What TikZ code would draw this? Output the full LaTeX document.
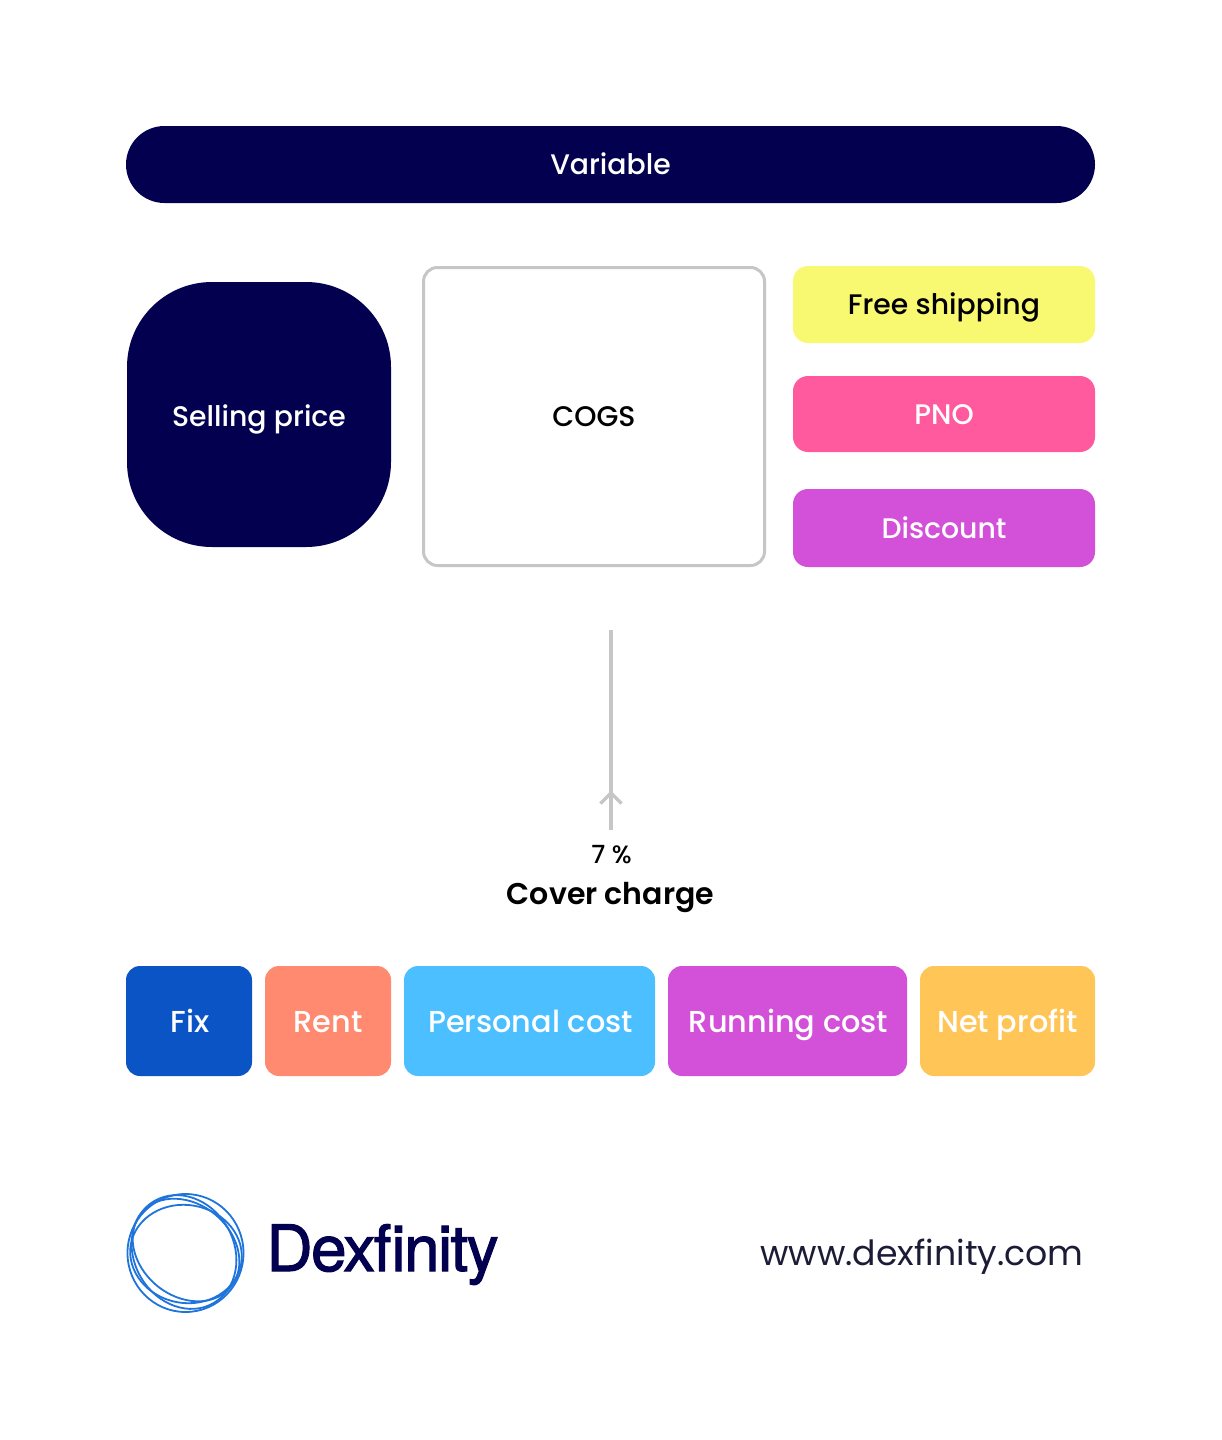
\documentclass[tikz,border=0pt]{standalone}
\usepackage{fontspec}
\setmainfont{Poppins}
\newfontfamily\pmed{Poppins Medium}
\newfontfamily\psemi{Poppins SemiBold}
\newfontfamily\plogo[LetterSpace=-2.6,FakeBold=1.6]{TeX Gyre Heros}
\usetikzlibrary{decorations.markings}
\definecolor{navy}{HTML}{03014F}
\definecolor{edgegray}{HTML}{C6C6C6}
\definecolor{yellowbox}{HTML}{F9F871}
\definecolor{pinkbox}{HTML}{FF5A9E}
\definecolor{purplebox}{HTML}{D351D9}
\definecolor{bluebox}{HTML}{0B54C6}
\definecolor{coralbox}{HTML}{FF8A70}
\definecolor{skybox}{HTML}{4BBFFF}
\definecolor{amberbox}{HTML}{FFC557}
\definecolor{ringblue}{HTML}{1F74DB}
\definecolor{urlink}{HTML}{1C1C36}
\tikzset{
  x=1pt,y=-1pt,
  box/.style={inner sep=0pt,outer sep=0pt,align=center,text=white,
    text height=24pt,text depth=4pt,
    font=\pmed\fontsize{28.3}{34}\selectfont},
  flat/.style={box,rounded corners=15pt},
  lower/.style={box,rounded corners=14pt,minimum height=110pt,
    text height=25pt,text depth=3pt,
    font=\pmed\fontsize{30.3}{36}\selectfont},
  ring/.style={draw=ringblue,line width=1.8pt},
  conn/.style={draw=edgegray,line width=3.5pt},
}
\begin{document}
\begin{tikzpicture}
\useasboundingbox (0,0) rectangle (1221,1440);
\fill[white] (0,0) rectangle (1221,1440);
\node[box,fill=navy,rounded corners=38.5pt,minimum width=969pt,minimum height=77pt] (variable) at (610.5,164.5) {Variable};
\node[box,fill=navy,rounded corners=85pt,minimum width=264pt,minimum height=265pt,text height=26pt,text depth=2pt] (selling) at (259,414.5) {Selling price};
\node[box,draw=edgegray,line width=3pt,fill=white,text=black,rounded corners=14pt,minimum width=341pt,minimum height=298pt] (cogs) at (594,416.5) {COGS};
\node[flat,fill=yellowbox,text=black,minimum width=302pt,minimum height=77pt] (free) at (944,304.5) {Free shipping};
\node[flat,fill=pinkbox,minimum width=302pt,minimum height=76pt] (pno) at (944,414) {PNO};
\node[flat,fill=purplebox,minimum width=302pt,minimum height=78pt] (discount) at (944,528) {Discount};

\coordinate (lineBottom) at (611,830);
\coordinate (lineTop) at (611,630);
\draw[conn,postaction={decorate},decoration={markings,
  mark=at position 0.185 with {\draw[edgegray,line width=3.5pt] (-10.5pt,10.5pt) -- (0pt,0pt) -- (-10.5pt,-10.5pt);}}]
  (lineBottom) -- (lineTop);

\node[inner sep=0pt,anchor=base,font=\pmed\fontsize{25}{28}\selectfont] (pct) at (611.5,863) {7 \%};
\node[inner sep=0pt,anchor=base,font=\psemi\fontsize{30}{36}\selectfont] (cover) at (610.5,904) {Cover charge};

\node[lower,fill=bluebox,minimum width=126pt] (fix) at (189,1021) {\hspace*{2pt}Fix};
\node[lower,fill=coralbox,minimum width=126pt] (rent) at (328,1021) {Rent};
\node[lower,fill=skybox,minimum width=251pt] (personal) at (529.5,1021) {\hspace*{2pt}Personal cost};
\node[lower,fill=purplebox,minimum width=239pt] (running) at (787.5,1021) {\hspace*{2pt}Running cost};
\node[lower,fill=amberbox,minimum width=175pt] (net) at (1007.5,1021) {Net profit};

% logo
\draw[ring] (185.5,1253) ellipse [x radius=58pt,y radius=59pt];
\draw[ring] (186,1250) ellipse [x radius=58pt,y radius=46pt,rotate=-40];
\draw[ring] (184,1252) ellipse [x radius=59pt,y radius=50pt,rotate=-60];
\draw[ring] (186,1254) ellipse [x radius=56pt,y radius=49pt,rotate=-10];
\node[inner sep=0pt,anchor=base,text=navy,font=\plogo\fontsize{64}{70}\selectfont] (brand) at (382.5,1271) {Dexfinity};
\node[inner sep=0pt,anchor=base,text=urlink,font=\fontsize{34.7}{40}\selectfont] (url) at (922,1265) {www.dexfinity.com};
\end{tikzpicture}
\end{document}
